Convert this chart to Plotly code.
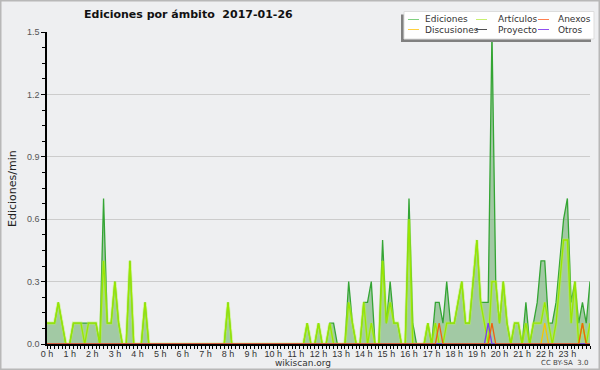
import numpy as np
import plotly.graph_objects as go

# 10-minute bins, 0:00 .. 24:00 (145 points)
ediciones = [
    0.1, 0.1, 0.1, 0.2, 0.1, 0.0, 0.0, 0.1, 0.1, 0.1, 0.1, 0.1,
    0.1, 0.1, 0.0, 0.7, 0.1, 0.1, 0.3, 0.1, 0.0, 0.0, 0.4, 0.0,
    0.0, 0.0, 0.2, 0.0, 0.0, 0.0, 0.0, 0.0, 0.0, 0.0, 0.0, 0.0,
    0.0, 0.0, 0.0, 0.0, 0.0, 0.0, 0.0, 0.0, 0.0, 0.0, 0.0, 0.0,
    0.2, 0.0, 0.0, 0.0, 0.0, 0.0, 0.0, 0.0, 0.0, 0.0, 0.0, 0.0,
    0.0, 0.0, 0.0, 0.0, 0.0, 0.0, 0.0, 0.0, 0.0, 0.1, 0.0, 0.0,
    0.1, 0.0, 0.0, 0.1, 0.1, 0.0, 0.0, 0.0, 0.3, 0.1, 0.0, 0.0,
    0.2, 0.2, 0.3, 0.0, 0.0, 0.5, 0.1, 0.3, 0.1, 0.1, 0.0, 0.0,
    0.7, 0.1, 0.0, 0.0, 0.0, 0.1, 0.0, 0.2, 0.2, 0.1, 0.3, 0.1,
    0.1, 0.2, 0.3, 0.1, 0.1, 0.3, 0.5, 0.2, 0.2, 0.2, 1.5, 0.3,
    0.1, 0.3, 0.1, 0.0, 0.1, 0.1, 0.0, 0.2, 0.0, 0.1, 0.2, 0.4,
    0.4, 0.1, 0.1, 0.2, 0.4, 0.6, 0.7, 0.2, 0.3, 0.1, 0.2, 0.1,
    0.3,
]
articulos = [
    0.1, 0.1, 0.1, 0.2, 0.1, 0.0, 0.0, 0.1, 0.1, 0.1, 0.0, 0.1,
    0.1, 0.1, 0.0, 0.4, 0.1, 0.1, 0.3, 0.1, 0.0, 0.0, 0.4, 0.0,
    0.0, 0.0, 0.2, 0.0, 0.0, 0.0, 0.0, 0.0, 0.0, 0.0, 0.0, 0.0,
    0.0, 0.0, 0.0, 0.0, 0.0, 0.0, 0.0, 0.0, 0.0, 0.0, 0.0, 0.0,
    0.2, 0.0, 0.0, 0.0, 0.0, 0.0, 0.0, 0.0, 0.0, 0.0, 0.0, 0.0,
    0.0, 0.0, 0.0, 0.0, 0.0, 0.0, 0.0, 0.0, 0.0, 0.1, 0.0, 0.0,
    0.1, 0.0, 0.0, 0.1, 0.0, 0.0, 0.0, 0.0, 0.2, 0.1, 0.0, 0.0,
    0.2, 0.0, 0.1, 0.0, 0.0, 0.4, 0.1, 0.2, 0.1, 0.1, 0.0, 0.0,
    0.6, 0.0, 0.0, 0.0, 0.0, 0.1, 0.0, 0.1, 0.0, 0.0, 0.1, 0.1,
    0.1, 0.2, 0.3, 0.1, 0.1, 0.3, 0.5, 0.2, 0.1, 0.0, 0.3, 0.3,
    0.1, 0.3, 0.1, 0.0, 0.1, 0.1, 0.0, 0.1, 0.0, 0.1, 0.1, 0.1,
    0.2, 0.1, 0.0, 0.1, 0.3, 0.5, 0.5, 0.1, 0.3, 0.0, 0.1, 0.0,
    0.1,
]
anexos = [0.0] * 145
anexos[104] = 0.1
anexos[118] = 0.1
anexos[142] = 0.1
discusiones = [0.0] * 145
discusiones[132] = 0.1
proyecto = [0.0] * 145
otros = [0.0] * 145
otros[117] = 0.1

hours = [f"{h} h" for h in range(24)]
x = np.arange(len(ediciones)) / 6.0

BG = "#eeeff1"
ML, MR, MT, MB = 47, 10, 32, 26
W, H = 600, 370

def px2paper_x(px):
    return (px - ML) / (W - ML - MR)

def px2paper_y(py):
    return 1 - (py - MT) / (H - MT - MB)

fig = go.Figure()
fig.add_trace(go.Scatter(x=x, y=ediciones, mode="lines", fill="tozeroy",
                         fillcolor="rgba(100,170,100,0.55)",
                         line=dict(color="#34a534", width=1.3), name="Ediciones"))
fig.add_trace(go.Scatter(x=x, y=articulos, mode="lines",
                         line=dict(color="rgba(180,250,60,0.45)", width=3.2),
                         hoverinfo="skip", name="Artículos glow"))
fig.add_trace(go.Scatter(x=x, y=articulos, mode="lines",
                         line=dict(color="#9ae600", width=1.3), name="Artículos"))
fig.add_trace(go.Scatter(x=x, y=discusiones, mode="lines",
                         line=dict(color="#f5c800", width=1.3), name="Discusiones"))
fig.add_trace(go.Scatter(x=x, y=proyecto, mode="lines",
                         line=dict(color="#555555", width=1.3), name="Proyecto"))
fig.add_trace(go.Scatter(x=x, y=otros, mode="lines",
                         line=dict(color="#7a3cf0", width=1.3), name="Otros"))
fig.add_trace(go.Scatter(x=x, y=anexos, mode="lines",
                         line=dict(color="#f06010", width=1.3), name="Anexos"))

fig.update_layout(
    width=W, height=H,
    margin=dict(l=ML, r=MR, t=MT, b=MB, autoexpand=False),
    paper_bgcolor=BG, plot_bgcolor=BG,
    showlegend=False,
    font=dict(family="DejaVu Sans", size=9, color="#444"),
)
fig.update_xaxes(
    range=[0, 24], tickmode="array", tickvals=list(range(24)), ticktext=hours,
    ticks="outside", ticklen=3, tickcolor="black", tickwidth=1,
    minor=dict(dtick=1/6, ticks="outside", ticklen=3, tickcolor="black", tickwidth=1),
    showline=True, linecolor="black", linewidth=1.5, showgrid=False,
    zeroline=False, tickfont=dict(family="Liberation Sans", size=9, color="#333"),
    ticklabelstandoff=-3, automargin=False,
)
fig.update_yaxes(
    range=[0, 1.5], tickmode="array", tickvals=[0, 0.3, 0.6, 0.9, 1.2, 1.5],
    ticktext=["0.0", "0.3", "0.6", "0.9", "1.2", "1.5"],
    ticks="outside", ticklen=4, tickcolor="black",
    minor=dict(dtick=0.075, ticks="outside", ticklen=3, tickcolor="black"),
    showline=True, linecolor="black", linewidth=1.5,
    showgrid=True, gridcolor="#cccccc", gridwidth=1, zeroline=False,
    tickfont=dict(family="Liberation Sans", size=9, color="#555"),
    automargin=False,
)

# Titles and credits
fig.add_annotation(text="<b>Ediciones por ámbito  2017-01-26</b>", xref="paper", yref="paper",
                   x=px2paper_x(188), y=px2paper_y(15), xanchor="center", yanchor="middle",
                   showarrow=False, font=dict(size=11, color="#111"))
fig.add_annotation(text="Ediciones/min", xref="paper", yref="paper",
                   x=px2paper_x(12), y=px2paper_y(189), textangle=-90,
                   xanchor="center", yanchor="middle", showarrow=False,
                   font=dict(size=11, color="#222"))
fig.add_annotation(text="wikiscan.org", xref="paper", yref="paper",
                   x=px2paper_x(303), y=px2paper_y(363), xanchor="center", yanchor="middle",
                   showarrow=False, font=dict(size=9, color="#333"))
fig.add_annotation(text="CC BY-SA  3.0", xref="paper", yref="paper",
                   x=px2paper_x(590), y=px2paper_y(363), xanchor="right", yanchor="middle",
                   showarrow=False, font=dict(size=7, color="#444"))

# Manual legend
legend_items = [
    ("Ediciones", "#80d080"), ("Artículos", "#c8f070"), ("Anexos", "#ff8050"),
    ("Discusiones", "#ffd040"), ("Proyecto", "#505050"), ("Otros", "#9050f0"),
]
lx0, lx1, ly0, ly1 = 404, 594, 11.5, 39
fig.add_shape(type="rect", xref="paper", yref="paper",
              x0=px2paper_x(lx0 - 3), x1=px2paper_x(lx1 - 3),
              y0=px2paper_y(ly1 + 3), y1=px2paper_y(ly0 + 3),
              fillcolor="#808080", line=dict(width=0), layer="above")
fig.add_shape(type="rect", xref="paper", yref="paper",
              x0=px2paper_x(lx0), x1=px2paper_x(lx1),
              y0=px2paper_y(ly1), y1=px2paper_y(ly0),
              fillcolor="white", line=dict(color="#dddddd", width=1), layer="above")
cols = [(408, 423), (476, 496), (538, 556)]
rows = [19.5, 29.5]
for i, (name, col) in enumerate(legend_items):
    r, c = divmod(i, 3)
    sx, tx = cols[c]
    yy = px2paper_y(rows[r])
    fig.add_shape(type="line", xref="paper", yref="paper",
                  x0=px2paper_x(sx), x1=px2paper_x(sx + 11), y0=yy, y1=yy,
                  line=dict(color=col, width=1), layer="above")
    fig.add_annotation(text=name, xref="paper", yref="paper", x=px2paper_x(tx), y=yy,
                       xanchor="left", yanchor="middle", showarrow=False,
                       font=dict(size=9, color="#333"))

# outer border
fig.add_shape(type="rect", xref="paper", yref="paper",
              x0=px2paper_x(0.75), x1=px2paper_x(599.25),
              y0=px2paper_y(369.25), y1=px2paper_y(0.75),
              line=dict(color="#b8b8b8", width=1.5), layer="above")

fig.write_html("out.html", config={"displayModeBar": False},
               post_script="document.body.style.margin='0';")
